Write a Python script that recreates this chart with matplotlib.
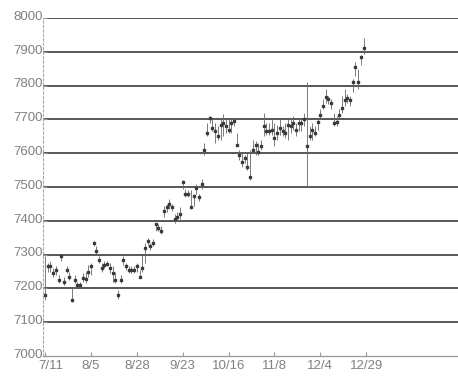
import matplotlib
matplotlib.use("Agg")
import matplotlib.pyplot as plt
import matplotlib.transforms as mtransforms
import numpy as np

# daily closes, highs and lows, 7/11 .. 12/29
closes = [7180, 7265, 7265, 7245, 7255, 7225, 7295, 7220, 7255, 7235,
          7165, 7225, 7210, 7210, 7230, 7228, 7250, 7265, 7335, 7310,
          7285, 7260, 7270, 7272, 7260, 7245, 7225, 7180, 7225, 7285,
          7265, 7255, 7255, 7255, 7265, 7235, 7260, 7320, 7340, 7325,
          7335, 7390, 7380, 7370, 7430, 7440, 7450, 7440, 7405, 7410,
          7420, 7515, 7480, 7478, 7440, 7475, 7497, 7470, 7510, 7610,
          7660, 7705, 7675, 7665, 7650, 7683, 7690, 7680, 7670, 7690,
          7695, 7625, 7595, 7575, 7585, 7560, 7530, 7610, 7625, 7605,
          7620, 7680, 7665, 7665, 7670, 7645, 7660, 7675, 7665, 7660,
          7685, 7680, 7690, 7670, 7690, 7690, 7700, 7620, 7650, 7670,
          7660, 7693, 7713, 7740, 7765, 7760, 7750, 7690, 7693, 7713,
          7733, 7757, 7762, 7757, 7810, 7855, 7810, 7885, 7910]

highs = [7295, 7275, 7280, 7260, 7265, 7240, 7300, 7235, 7265, 7250,
         7205, 7240, 7220, 7220, 7245, 7250, 7270, 7275, 7340, 7325,
         7295, 7275, 7280, 7280, 7275, 7265, 7250, 7195, 7240, 7295,
         7275, 7265, 7265, 7265, 7275, 7255, 7300, 7335, 7350, 7335,
         7345, 7395, 7390, 7385, 7445, 7450, 7465, 7450, 7420, 7425,
         7440, 7520, 7495, 7490, 7490, 7480, 7510, 7480, 7525, 7630,
         7690, 7710, 7700, 7690, 7680, 7700, 7715, 7700, 7700, 7700,
         7705, 7660, 7610, 7600, 7595, 7600, 7610, 7640, 7635, 7630,
         7640, 7720, 7690, 7690, 7700, 7690, 7685, 7700, 7680, 7690,
         7700, 7700, 7710, 7690, 7700, 7700, 7720, 7810, 7680, 7690,
         7680, 7700, 7730, 7760, 7790, 7770, 7760, 7720, 7710, 7730,
         7770, 7790, 7775, 7770, 7820, 7870, 7850, 7890, 7940]

lows = [7165, 7250, 7250, 7235, 7240, 7215, 7280, 7210, 7245, 7225,
        7160, 7215, 7200, 7200, 7220, 7215, 7235, 7240, 7325, 7300,
        7275, 7250, 7260, 7265, 7245, 7220, 7215, 7170, 7215, 7270,
        7255, 7245, 7245, 7245, 7250, 7230, 7250, 7275, 7330, 7315,
        7325, 7370, 7370, 7360, 7410, 7425, 7435, 7430, 7395, 7400,
        7405, 7495, 7470, 7470, 7435, 7445, 7480, 7460, 7495, 7595,
        7650, 7690, 7665, 7630, 7640, 7640, 7650, 7660, 7660, 7660,
        7680, 7620, 7580, 7560, 7570, 7550, 7520, 7600, 7595, 7595,
        7610, 7650, 7655, 7655, 7655, 7620, 7640, 7655, 7650, 7645,
        7640, 7660, 7670, 7650, 7665, 7665, 7680, 7500, 7640, 7640,
        7650, 7670, 7700, 7730, 7750, 7745, 7730, 7680, 7680, 7700,
        7720, 7740, 7750, 7740, 7780, 7830, 7790, 7860, 7895]

tick_days = [0, 17, 34, 51, 68, 85, 102, 119]
tick_labels = ["7/11", "8/5", "8/28", "9/23", "10/16", "11/8", "12/4", "12/29"]
y_ticks = list(range(7000, 8001, 100))

plt.rcParams['font.family'] = ['Liberation Sans']

fig = plt.figure(figsize=(4.58, 3.76), dpi=100)
ax = fig.add_axes([0.094, 0.053, 0.906, 0.899])

days = np.arange(len(closes))

# grid lines
for v in y_ticks[1:]:
    ax.axhline(v, color='#4a4a4a', lw=1.3, zorder=1)

# high-low bars with close marks
ax.vlines(days, lows, highs, color='#666666', lw=0.6, zorder=2)
ax.plot(days, closes, 's', color='#3a3a3a', markersize=1.6, zorder=3)

ax.set_xlim(-0.75, 153)
ax.set_ylim(7000, 8000)
ax.set_yticks(y_ticks)
ax.set_yticklabels([str(v) for v in y_ticks])
ax.set_xticks(tick_days)
ax.set_xticklabels(tick_labels)

ax.tick_params(axis='both', colors='#999999', labelcolor='#808080',
               labelsize=9.5, direction='in', length=3, width=0.8)
ax.tick_params(axis='y', pad=0)
ax.tick_params(axis='x', pad=3)

# nudge labels: y labels up a bit, first x label right a bit
up = mtransforms.ScaledTranslation(0, 2 / 72, fig.dpi_scale_trans)
for lab in ax.get_yticklabels():
    lab.set_transform(lab.get_transform() + up)
right = mtransforms.ScaledTranslation(4 / 72, 0, fig.dpi_scale_trans)
first = ax.get_xticklabels()[0]
first.set_transform(first.get_transform() + right)

for s in ['top', 'right']:
    ax.spines[s].set_visible(False)
ax.spines['left'].set_color('#aaaaaa')
ax.spines['left'].set_linestyle((0, (2, 2)))
ax.spines['left'].set_linewidth(0.8)
ax.spines['bottom'].set_color('#999999')
ax.spines['bottom'].set_linewidth(0.9)

fig.savefig('out.png', dpi=100)
